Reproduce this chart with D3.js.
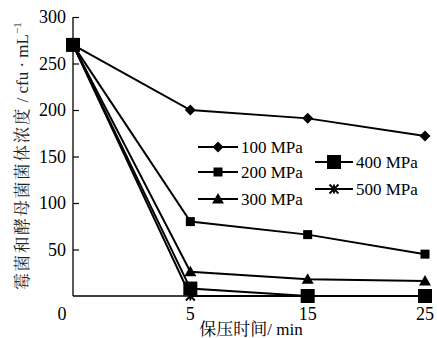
<!DOCTYPE html>
<html><head><meta charset="utf-8">
<script src="https://cdn.jsdelivr.net/npm/d3@7"></script>
<style>body{margin:0;background:#fff}svg{display:block}
text{font-family:"Liberation Serif","Noto Serif CJK SC","Noto Sans CJK SC",serif;fill:#000}</style>
</head><body>
<svg id="c" width="437" height="338"></svg>
<script>
const times = ["0","5","15","25"];
const seriesNames = ["100 MPa","200 MPa","300 MPa","400 MPa","500 MPa"];
const s100 = [270,200,191,172];
const s200 = [270,80,66,45];
const s300 = [270,26,18,16];
const s400 = [270,8,0,0];
const s500 = [270,0,0,0];
const yTicks = [50,100,150,200,250,300];
const seriesVals = [s100,s200,s300,s400,s500];
const markerTypes = ["diamond","square","triangle","bigsquare","star"];

const svg = d3.select("#c");
const x = d3.scalePoint().domain(times).range([73,425]);
const y = d3.scaleLinear().domain([0,300]).range([296,17]);

// axes
svg.append("line").attr("x1",73).attr("x2",73).attr("y1",y(300)).attr("y2",y(0)).attr("stroke","#000").attr("stroke-width",1.3);
svg.append("line").attr("x1",73).attr("x2",430).attr("y1",y(0)).attr("y2",y(0)).attr("stroke","#000").attr("stroke-width",1.3);
const yAx = svg.append("g").attr("transform","translate(73,0)").call(d3.axisRight(y).tickValues(yTicks).tickSize(6).tickFormat(""));
yAx.select(".domain").remove();
yAx.selectAll("line").attr("stroke-width",1.2);
svg.selectAll(".ytl").data(yTicks).join("text").attr("class","ytl")
  .attr("x",66).attr("y",d=>y(d)+6).attr("text-anchor","end")
  .style("font-size","18px").text(d=>d);
svg.selectAll(".xtl").data(times).join("text").attr("class","xtl")
  .attr("x",d=>d==="0"?62:x(d)).attr("y",320).attr("text-anchor","middle")
  .style("font-size","18px").text(d=>d);

// axis titles
svg.append("text").attr("x",251).attr("y",335).attr("text-anchor","middle")
  .style("font-size","17px").text("保压时间/ min");
const yt = svg.append("text").attr("transform","translate(28,156) rotate(-90)").attr("text-anchor","middle")
  .style("font-size","16.5px").style("fill","#222");
yt.append("tspan").style("letter-spacing","1.8px").text("霉菌和酵母菌菌体浓度");
yt.append("tspan").style("font-size","17px").text(" / cfu · mL");
yt.append("tspan").attr("dy",-7).style("font-size","11px").text("−1");

function marker(g, type, cx, cy){
  if(type==="diamond"){
    g.append("path").attr("d",`M${cx},${cy-5.5}L${cx+5.5},${cy}L${cx},${cy+5.5}L${cx-5.5},${cy}Z`).attr("fill","#000");
  } else if(type==="square"){
    g.append("rect").attr("x",cx-4.5).attr("y",cy-4.5).attr("width",9).attr("height",9).attr("fill","#000");
  } else if(type==="bigsquare"){
    g.append("rect").attr("x",cx-7).attr("y",cy-7).attr("width",14).attr("height",14).attr("fill","#000");
  } else if(type==="triangle"){
    g.append("path").attr("d",`M${cx},${cy-6}L${cx+6},${cy+4.5}L${cx-6},${cy+4.5}Z`).attr("fill","#000");
  } else if(type==="star"){
    const r=4.5;
    g.append("path").attr("d",`M${cx-r},${cy-r}L${cx+r},${cy+r}M${cx-r},${cy+r}L${cx+r},${cy-r}M${cx},${cy-r}L${cx},${cy+r}`).attr("stroke","#000").attr("stroke-width",1.8);
  }
}

const line = d3.line().x((d,i)=>x(times[i])).y(d=>y(d));
const order = [4,3,2,1,0];
order.forEach(k=>{
  svg.append("path").attr("d",line(seriesVals[k])).attr("fill","none").attr("stroke","#000").attr("stroke-width",2);
});
order.forEach(k=>{
  const g = svg.append("g");
  seriesVals[k].forEach((v,i)=>marker(g, markerTypes[k], x(times[i]), y(v)));
});

// legend
const legPos = [[198,147],[198,172],[198,199],[315,162],[315,189]];
const legW = [40,40,40,38,38];
seriesNames.forEach((n,k)=>{
  const [lx,ly] = legPos[k];
  const g = svg.append("g");
  g.append("line").attr("x1",lx).attr("x2",lx+legW[k]).attr("y1",ly).attr("y2",ly).attr("stroke","#000").attr("stroke-width",2);
  marker(g, markerTypes[k], lx+legW[k]/2, ly);
  g.append("text").attr("x",lx+legW[k]+3).attr("y",ly+6).style("font-size","17px").text(n);
});
</script>
</body></html>
